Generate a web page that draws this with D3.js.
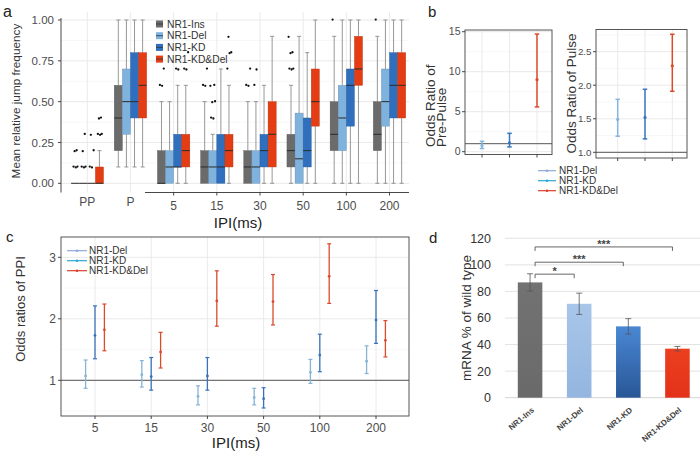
<!DOCTYPE html>
<html><head><meta charset="utf-8">
<script src="https://cdn.jsdelivr.net/npm/d3@7"></script>
<style>body{margin:0;background:#fff}svg{display:block}</style>
</head><body><svg id="c" width="700" height="457"></svg>
<script>
// ---------- Panel a data ----------
const groupsA = ["PP","P","5","15","30","50","100","200"];
const seriesA = ["NR1-Ins","NR1-Del","NR1-KD","NR1-KD&Del"];
// [lower whisker, Q1, median, Q3, upper whisker]
const boxIns   = [[0,0,0,0,0],[0.1,0.2,0.4,0.6,1.0],[0,0,0,0.2,0.5],[0,0,0.1,0.2,0.5],[0,0,0.1,0.2,0.5],[0,0.1,0.2,0.3,0.6],[0,0.2,0.3,0.5,0.9],[0,0.2,0.3,0.5,0.9]];
const boxDel   = [[0,0,0,0,0],[0.1,0.3,0.5,0.7,1.0],[0,0,0.1,0.2,0.5],[0,0,0.1,0.2,0.3],[0,0,0.1,0.2,0.5],[0,0,0.15,0.43,0.9],[0,0.2,0.4,0.6,1.0],[0,0.35,0.5,0.7,1.0]];
const boxKD    = [[0,0,0,0,0],[0.1,0.4,0.5,0.8,1.0],[0,0.1,0.1,0.3,0.6],[0,0,0.1,0.3,0.7],[0,0.1,0.2,0.3,0.6],[0,0.1,0.2,0.4,0.8],[0,0.35,0.6,0.7,1.0],[0,0.4,0.6,0.8,1.0]];
const boxKDDel = [[0,0,0,0.1,0.2],[0.1,0.4,0.6,0.8,1.0],[0,0.1,0.2,0.3,0.6],[0,0.1,0.2,0.3,0.6],[0,0.1,0.3,0.5,0.9],[0,0.35,0.5,0.7,1.0],[0,0.6,0.7,0.9,1.0],[0,0.4,0.6,0.8,1.0]];
const outIns   = [[0.1,0.1,0.1,0.2,0.2],[],[0.6,0.6,0.7],[0.6,0.6,0.7],[0.6,0.6,0.7],[0.7,0.7,0.7,0.8,0.8,0.9],[1.0],[1.0]];
const outDel   = [[0.1,0.1,0.1,0.2,0.3],[],[],[0.4,0.4,0.5,0.5,0.6,0.6],[0.6,0.7],[],[],[]];
const outKD    = [[0.1,0.1,0.2,0.3],[],[0.7,0.7],[],[],[],[],[]];
const outKDDel = [[0.3,0.3,0.3,0.4,0.4],[],[0.7,0.7,0.8],[0.7,0.8,0.8,0.9],[],[],[],[]];
const ticksA = [0,0.25,0.5,0.75,1];

// ---------- Panel b data ----------
const seriesB = ["NR1-Del","NR1-KD","NR1-KD&Del"];
const orPre     = [0.75, 1.1, 9.0];
const orPreLo   = [0.4, 0.6, 5.6];
const orPreHi   = [1.3, 2.3, 14.7];
const orPulse   = [1.49, 1.52, 2.29];
const orPulseLo = [1.24, 1.20, 1.91];
const orPulseHi = [1.79, 1.94, 2.76];
const ticksPre = [0,5,10,15];
const ticksPulse = [1.0,1.5,2.0,2.5];

// ---------- Panel c data ----------
const ipiC = ["5","15","30","50","100","200"];
const ppiDel     = [1.07,1.09,0.74,0.72,1.13,1.31];
const ppiDelLo   = [0.87,0.89,0.60,0.60,0.95,1.11];
const ppiDelHi   = [1.33,1.32,0.91,0.87,1.34,1.56];
const ppiKD      = [1.73,1.06,1.07,0.70,1.41,1.98];
const ppiKDLo    = [1.35,0.84,0.84,0.55,1.14,1.60];
const ppiKDHi    = [2.21,1.37,1.37,0.88,1.75,2.46];
const ppiKDDel   = [1.82,1.46,2.29,2.28,2.69,1.65];
const ppiKDDelLo = [1.48,1.20,1.88,1.90,2.25,1.38];
const ppiKDDelHi = [2.24,1.78,2.78,2.72,3.22,1.97];
const ticksC = [1,2,3];

// ---------- Panel d data ----------
const genotypesD = ["NR1-Ins","NR1-Del","NR1-KD","NR1-KD&Del"];
const mrna    = [86.8, 70.7, 53.7, 36.9];
const mrnaErr = [6.5, 8.0, 5.8, 1.7];
const sigTargets = [1, 2, 3];
const sigLabels  = ["*", "***", "***"];
const sigLevels  = [93, 102, 113.5];
const ticksD = [0,20,40,60,80,100,120];

// ================= drawing =================
const FONT = '"Liberation Sans", Arial, Helvetica, sans-serif';
const svg = d3.select("#c").style("font-family", FONT);
const defs = svg.append("defs");

function text(t, x, y, size, o = {}) {
  const e = svg.append("text").attr("x", x).attr("y", y).attr("font-size", size)
    .attr("fill", o.fill || "#222").text(t);
  if (o.anchor) e.attr("text-anchor", o.anchor);
  if (o.dy) e.attr("dy", o.dy);
  if (o.weight) e.attr("font-weight", o.weight);
  if (o.rotate != null) e.attr("transform", `rotate(${o.rotate},${x},${y})`);
  return e;
}
function line(g, x1, y1, x2, y2, stroke, w) {
  return g.append("line").attr("x1", x1).attr("y1", y1).attr("x2", x2).attr("y2", y2)
    .attr("stroke", stroke).attr("stroke-width", w);
}

// ---------- Panel a ----------
(function () {
  const g = svg.append("g");
  const yA = d3.scaleLinear().domain([0, 1]).range([183.3, 20]);
  const xA = d3.scalePoint().domain(groupsA).range([87.3, 389.5]);
  const L = 61, R = 409, T = 12, B = 192.5;
  d3.range(0.125, 1, 0.25).forEach(v => line(g, L, yA(v), R, yA(v), "#f1f1f1", 0.6));
  ticksA.forEach(v => line(g, L, yA(v), R, yA(v), "#e6e6e6", 0.9));
  groupsA.forEach(c => line(g, xA(c), T, xA(c), B, "#e8e8e8", 0.9));

  const cols = ["#6b6b6b", "#7fb2dd", "#2f6fbe", "#e43d14"];
  const boxes = [boxIns, boxDel, boxKD, boxKDDel];
  const outs = [outIns, outDel, outKD, outKDDel];
  const bw = 8.1;
  const jit = [-1.6, 0.6, 2.3, -0.5, 1.5, -2.4];
  boxes.forEach((arr, s) => {
    arr.forEach((b, i) => {
      const cx = xA(groupsA[i]) + (s - 1.5) * bw;
      const [lo, q1, md, q3, hi] = b;
      if (hi > q3) {
        line(g, cx, yA(hi), cx, yA(q3), "#8c8c8c", 0.9);
        line(g, cx - bw / 4, yA(hi), cx + bw / 4, yA(hi), "#8c8c8c", 0.9);
      }
      if (q1 > lo) {
        line(g, cx, yA(q1), cx, yA(lo), "#8c8c8c", 0.9);
        line(g, cx - bw / 4, yA(lo), cx + bw / 4, yA(lo), "#8c8c8c", 0.9);
      }
      g.append("rect").attr("x", cx - bw / 2).attr("y", yA(q3)).attr("width", bw)
        .attr("height", Math.max(0, yA(q1) - yA(q3))).attr("fill", cols[s])
        .attr("stroke", d3.color(cols[s]).darker(0.6)).attr("stroke-width", 0.4);
      line(g, cx - bw / 2, yA(md), cx + bw / 2, yA(md), "#2b2b2b", 1);
      outs[s][i].forEach((v, k) => {
        g.append("circle").attr("cx", cx + jit[k % jit.length]).attr("cy", yA(v) + (k % 2 ? 0.5 : -0.4))
          .attr("r", 1.15).attr("fill", "#111");
      });
    });
  });
  // y axis
  line(g, L, 18, L, B, "#333", 0.9);
  ticksA.forEach(v => {
    line(g, L - 3, yA(v), L, yA(v), "#333", 0.9);
    text(d3.format(".2f")(v), L - 7, yA(v), 11.5, { anchor: "end", dy: "0.35em", fill: "#4d4d4d" });
  });
  // x axis
  line(g, 145, B, R, B, "#333", 0.9);
  groupsA.forEach((c, i) => {
    if (i >= 2) line(g, xA(c), B, xA(c), B + 3, "#333", 0.9);
    text(c, xA(c), i < 2 ? 206 : 209.5, 12, { anchor: "middle", fill: "#4d4d4d" });
  });
  text("IPI(ms)", 238, 227.5, 15, { anchor: "middle" });
  text("Mean relative jump frequency", 20, 101, 11.8, { anchor: "middle", rotate: -90, fill: "#333" });
  // legend
  seriesA.forEach((s, i) => {
    const y = 24 + i * 11.7;
    g.append("rect").attr("x", 156).attr("y", y - 3.5).attr("width", 7).attr("height", 7).attr("fill", cols[i]);
    line(g, 156, y, 163, y, "#333", 0.8);
    text(s, 167, y, 10.3, { dy: "0.35em", fill: "#333" });
  });
  text("a", 3, 17, 16, { fill: "#222" });
})();

// ---------- helper for OR panels ----------
function orPanel(x0, x1, y0, y1, yS, ticks, minors, xpos, vals, lo, hi, cols, capW, sw, dodge, fmt, tickFont) {
  const g = svg.append("g");
  minors.forEach(v => line(g, x0, yS(v), x1, yS(v), "#f1f1f1", 0.6));
  ticks.forEach(v => line(g, x0, yS(v), x1, yS(v), "#e6e6e6", 0.9));
  xpos.forEach(x => line(g, x, y0, x, y1, "#e8e8e8", 0.9));
  line(g, x0, yS(1), x1, yS(1), "#555", 1);
  vals.forEach((v, i) => {
    const x = dodge(i);
    g.append("line").attr("x1", x).attr("x2", x).attr("y1", yS(hi[i])).attr("y2", yS(lo[i]))
      .attr("stroke", cols(i)).attr("stroke-width", sw);
    line(g, x - capW / 2, yS(hi[i]), x + capW / 2, yS(hi[i]), cols(i), sw);
    line(g, x - capW / 2, yS(lo[i]), x + capW / 2, yS(lo[i]), cols(i), sw);
    g.append("circle").attr("cx", x).attr("cy", yS(v)).attr("r", 1.6).attr("fill", cols(i));
  });
  g.append("rect").attr("x", x0).attr("y", y0).attr("width", x1 - x0).attr("height", y1 - y0)
    .attr("fill", "none").attr("stroke", "#555").attr("stroke-width", 1);
  ticks.forEach(v => {
    line(g, x0 - 3, yS(v), x0, yS(v), "#333", 0.9);
    text(fmt(v), x0 - 4.5, yS(v), tickFont, { anchor: "end", dy: "0.35em", fill: "#4d4d4d" });
  });
  return g;
}

// ---------- Panel b ----------
(function () {
  const colB = ["#86b5dd", "#3876c0", "#dc4a2a"];
  // left
  const yL = d3.scaleLinear().domain([0, 15]).range([151.7, 31.7]);
  const xL = d3.scalePoint().domain(seriesB).range([482, 537]);
  const gL = orPanel(465, 552, 30, 154.5, yL, ticksPre, [2.5, 7.5, 12.5], seriesB.map(s => xL(s)),
    orPre, orPreLo, orPreHi, i => colB[i], 4.5, 1.5, i => xL(seriesB[i]), d3.format("d"), 10.5);
  seriesB.forEach(s => line(gL, xL(s), 154.5, xL(s), 157.5, "#333", 0.9));
  // right
  const yR = d3.scaleLinear().domain([1, 2.5]).range([152.3, 51.7]);
  const xR = d3.scalePoint().domain(seriesB).range([617.7, 672.3]);
  const gR = orPanel(596, 687, 29.5, 158, yR, ticksPulse, [1.25, 1.75, 2.25, 2.75], seriesB.map(s => xR(s)),
    orPulse, orPulseLo, orPulseHi, i => colB[i], 4.5, 1.5, i => xR(seriesB[i]), d3.format(".1f"), 9.8);
  seriesB.forEach(s => line(gR, xR(s), 158, xR(s), 161, "#333", 0.9));
  text("Odds Ratio of", 435, 147, 13.5, { rotate: -90, fill: "#333" });
  text("Pre-Pulse", 446, 147, 13.5, { rotate: -90, fill: "#333" });
  text("Odds Ratio of Pulse", 576, 93.5, 13.5, { anchor: "middle", rotate: -90, fill: "#333" });
  const legCols = ["#8fa9db", "#2aa7d6", "#d8402b"];
  seriesB.forEach((s, i) => {
    const y = 170.7 + i * 10;
    line(svg, 538, y, 556, y, legCols[i], 1.2);
    svg.append("circle").attr("cx", 547).attr("cy", y).attr("r", 1.3).attr("fill", legCols[i]);
    text(s, 559, y, 10, { dy: "0.35em", fill: "#333" });
  });
  text("b", 428, 17, 15, { fill: "#222" });
})();

// ---------- Panel c ----------
(function () {
  const colC = ["#86b4d6", "#3a72b8", "#da4a2c"];
  const yC = d3.scaleLinear().domain([1, 3]).range([380.3, 257.3]);
  const xC = d3.scalePoint().domain(ipiC).range([95, 376]);
  const L = 61, R = 409, T = 237, B = 416;
  const g = svg.append("g");
  [0.5, 1.5, 2.5].forEach(v => line(g, L, yC(v), R, yC(v), "#f1f1f1", 0.6));
  ticksC.forEach(v => line(g, L, yC(v), R, yC(v), "#e6e6e6", 0.9));
  ipiC.forEach(c => line(g, xC(c), T, xC(c), B, "#e8e8e8", 0.9));
  line(g, L, yC(1), R, yC(1), "#555", 1);
  const sets = [[ppiDel, ppiDelLo, ppiDelHi], [ppiKD, ppiKDLo, ppiKDHi], [ppiKDDel, ppiKDDelLo, ppiKDDelHi]];
  sets.forEach(([v, lo, hi], s) => {
    ipiC.forEach((c, i) => {
      const x = xC(c) + (s - 1) * 9.4;
      line(g, x, yC(hi[i]), x, yC(lo[i]), colC[s], 1.3);
      line(g, x - 2, yC(hi[i]), x + 2, yC(hi[i]), colC[s], 1.2);
      line(g, x - 2, yC(lo[i]), x + 2, yC(lo[i]), colC[s], 1.2);
      g.append("circle").attr("cx", x).attr("cy", yC(v[i])).attr("r", 1.4).attr("fill", colC[s]);
    });
  });
  g.append("rect").attr("x", L).attr("y", T).attr("width", R - L).attr("height", B - T)
    .attr("fill", "none").attr("stroke", "#555").attr("stroke-width", 1);
  ticksC.forEach(v => {
    line(g, L - 3, yC(v), L, yC(v), "#333", 0.9);
    text(String(v), L - 5, yC(v), 12, { anchor: "end", dy: "0.35em", fill: "#4d4d4d" });
  });
  ipiC.forEach(c => {
    line(g, xC(c), B, xC(c), B + 3, "#333", 0.9);
    text(c, xC(c), 432, 12, { anchor: "middle", fill: "#4d4d4d" });
  });
  text("IPI(ms)", 236, 448, 15, { anchor: "middle" });
  text("Odds ratios of PPI", 25, 309, 13, { anchor: "middle", rotate: -90, fill: "#333" });
  const legCols = ["#8fa9db", "#2aa7d6", "#d8402b"];
  seriesB.forEach((s, i) => {
    const y = 250.7 + i * 10;
    line(g, 67, y, 87, y, legCols[i], 1.2);
    g.append("circle").attr("cx", 77).attr("cy", y).attr("r", 1.3).attr("fill", legCols[i]);
    text(s, 89, y, 10, { dy: "0.35em", fill: "#333" });
  });
  text("c", 6, 242, 15, { fill: "#222" });
})();

// ---------- Panel d ----------
(function () {
  const mk = (id, c1, c2) => {
    const gr = defs.append("linearGradient").attr("id", id).attr("x1", 0).attr("y1", 0).attr("x2", 0).attr("y2", 1);
    gr.append("stop").attr("offset", "0%").attr("stop-color", c1);
    gr.append("stop").attr("offset", "100%").attr("stop-color", c2);
  };
  mk("gIns", "#727272", "#6a6a6a");
  mk("gDel", "#a8c6ea", "#93b5df");
  mk("gKD", "#4a88d4", "#285696");
  mk("gKDDel", "#ec3f1f", "#e3321a");
  const fills = ["url(#gIns)", "url(#gDel)", "url(#gKD)", "url(#gKDDel)"];
  const yD = d3.scaleLinear().domain([0, 120]).range([397.7, 238.3]);
  const xD = d3.scaleBand().domain(genotypesD).range([505.5, 702]).paddingInner(0.5).paddingOuter(0.25);
  const g = svg.append("g");
  ticksD.slice(1).forEach(v => line(g, 505, yD(v), 700, yD(v), "#dadada", 0.8));
  line(g, 505, yD(0), 700, yD(0), "#cfcfcf", 0.9);
  ticksD.forEach(v => text(String(v), 491, yD(v), 12.5, { anchor: "end", dy: "0.35em", fill: "#333" }));
  genotypesD.forEach((c, i) => {
    g.append("rect").attr("x", xD(c)).attr("y", yD(mrna[i])).attr("width", xD.bandwidth())
      .attr("height", yD(0) - yD(mrna[i])).attr("fill", fills[i]);
    const cx = xD(c) + xD.bandwidth() / 2;
    line(g, cx, yD(mrna[i] + mrnaErr[i]), cx, yD(mrna[i] - mrnaErr[i]), "#555", 0.8);
    line(g, cx - 3, yD(mrna[i] + mrnaErr[i]), cx + 3, yD(mrna[i] + mrnaErr[i]), "#555", 0.8);
    line(g, cx - 3, yD(mrna[i] - mrnaErr[i]), cx + 3, yD(mrna[i] - mrnaErr[i]), "#555", 0.8);
    text(c, cx + 4.5, 411, 8, { anchor: "end", rotate: -40, weight: "bold", fill: "#444" });
  });
  const cx0 = xD(genotypesD[0]) + xD.bandwidth() / 2 + 5;
  sigTargets.forEach((t, k) => {
    const cx1 = xD(genotypesD[t]) + xD.bandwidth() / 2 - 5;
    const y = yD(sigLevels[k]);
    g.append("path").attr("d", `M${cx0},${y + 4}V${y}H${cx1}V${y + 4}`)
      .attr("fill", "none").attr("stroke", "#555").attr("stroke-width", 0.9);
    text(sigLabels[k], (cx0 + cx1) / 2, y + 1, 11, { anchor: "middle", fill: "#444", weight: "bold" });
  });
  text("mRNA % of wild type", 471, 318, 13.5, { anchor: "middle", rotate: -90, fill: "#333" });
  text("d", 429, 243, 15, { fill: "#222" });
})();
</script></body></html>
